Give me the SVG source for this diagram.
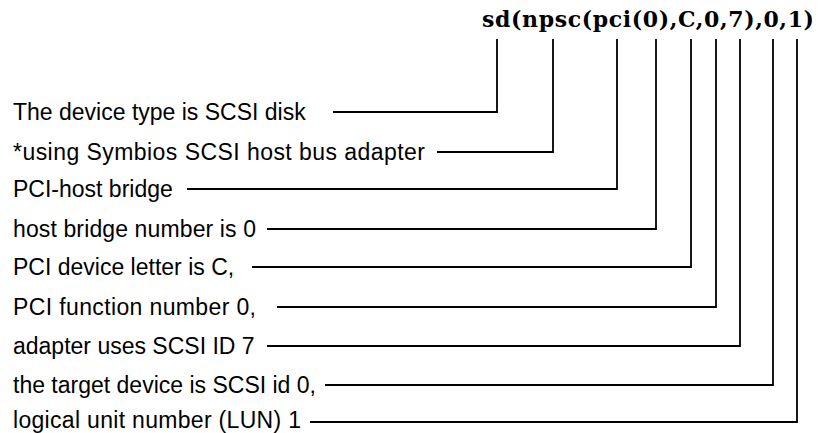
<svg xmlns="http://www.w3.org/2000/svg" width="818" height="433" viewBox="0 0 818 433">
<style>
.lbl{font-family:"Liberation Sans",Arial,sans-serif;font-size:23px;fill:#000}
.ttl{font-family:"DejaVu Serif","Liberation Serif",serif;font-size:22px;font-weight:bold;fill:#000}
.conn{fill:none;stroke:#000;stroke-width:1.8}
</style>
<rect width="818" height="433" fill="#fff"/>
<g id="title"><text class="ttl" x="482" y="27" textLength="332" lengthAdjust="spacing">sd(npsc(pci(0),C,0,7),0,1)</text></g>
<g id="n1"><text class="lbl" x="13" y="120">The device type is SCSI disk</text></g>
<g id="n2"><text class="lbl" x="13" y="160" textLength="412" lengthAdjust="spacing">*using Symbios SCSI host bus adapter</text></g>
<g id="n3"><text class="lbl" x="13" y="197">PCI-host bridge</text></g>
<g id="n4"><text class="lbl" x="13" y="237" textLength="243" lengthAdjust="spacing">host bridge number is 0</text></g>
<g id="n5"><text class="lbl" x="13" y="275">PCI device letter is C,</text></g>
<g id="n6"><text class="lbl" x="13" y="315" textLength="243" lengthAdjust="spacing">PCI function number 0,</text></g>
<g id="n7"><text class="lbl" x="13" y="354">adapter uses SCSI ID 7</text></g>
<g id="n8"><text class="lbl" x="13" y="393">the target device is SCSI id 0,</text></g>
<g id="n9"><text class="lbl" x="13" y="428" textLength="288" lengthAdjust="spacing">logical unit number (LUN) 1</text></g>
<g id="connectors">
<polyline class="conn" points="333,112 497,112 497,39"/>
<polyline class="conn" points="437,152 553,152 553,39"/>
<polyline class="conn" points="187,189 617,189 617,39"/>
<polyline class="conn" points="267,229 656,229 656,39"/>
<polyline class="conn" points="252,267 691,267 691,39"/>
<polyline class="conn" points="277,307 716,307 716,39"/>
<polyline class="conn" points="267,346 740,346 740,39"/>
<polyline class="conn" points="325,385 773,385 773,39"/>
<polyline class="conn" points="310,422 797,422 797,39"/>
</g>
</svg>
